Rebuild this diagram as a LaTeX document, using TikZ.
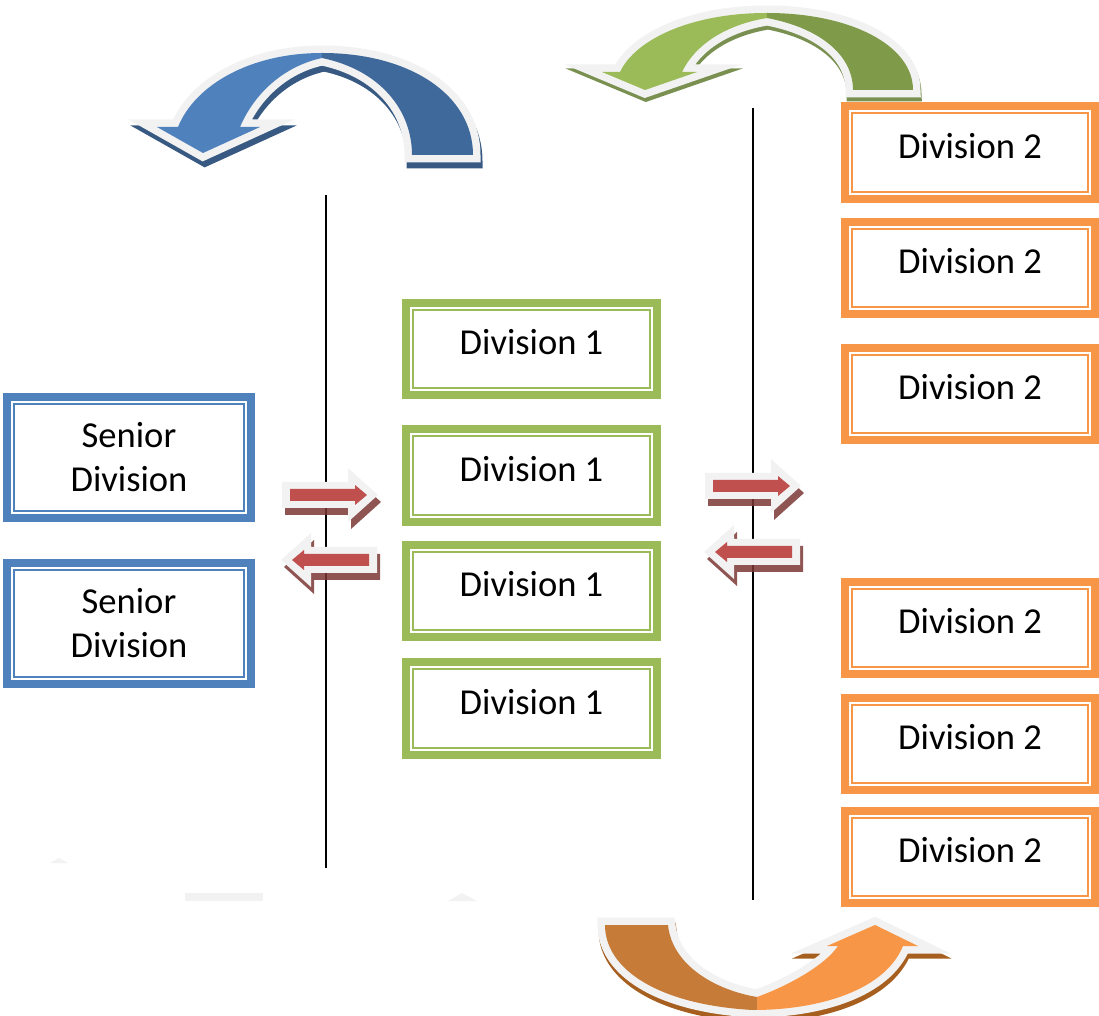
\documentclass[tikz,border=0pt]{standalone}
\usepackage{fontspec}
\setmainfont{Carlito}
\definecolor{divblue}{HTML}{4F81BD}
\definecolor{divgreen}{HTML}{9BBB59}
\definecolor{divorange}{HTML}{F79646}
\definecolor{blueA}{HTML}{4F81BD}
\definecolor{blueB}{HTML}{40699B}
\definecolor{blueshadow}{HTML}{385A82}
\definecolor{greenA}{HTML}{9BBB59}
\definecolor{greenB}{HTML}{7F9A48}
\definecolor{greenshadow}{HTML}{7A9050}
\definecolor{orangeA}{HTML}{C77B38}
\definecolor{orangeB}{HTML}{F79646}
\definecolor{orangeshadow}{HTML}{A65F1F}
\definecolor{rimgray}{HTML}{F2F2F2}
\definecolor{arrowred}{HTML}{C0504D}
\definecolor{redshadow}{HTML}{7A3735}
\tikzset{
	pics/redarrow/.style={code={
			\fill[redshadow, opacity=.85, shift={(3,7)}, xscale=#1] (0,-13) -- (66,-13) -- (66,-27) -- (96,0) -- (66,27) -- (66,13) -- (0,13) -- cycle;
			\fill[rimgray, xscale=#1] (0,-13) -- (66,-13) -- (66,-27) -- (96,0) -- (66,27) -- (66,13) -- (0,13) -- cycle;
			\fill[arrowred, xscale=#1] (8,-6) -- (73,-6) -- (73,-10) -- (85,0) -- (73,10) -- (73,6) -- (8,6) -- cycle;
	}}
}
% the three bent arrows
\newcommand\bluearc{(473,155) .. controls (473,95) and (410,53) .. (322,53) .. controls (250,53) and (195,85) .. (178,127) -- (157,127) -- (203,153) -- (260,127) -- (240,127) .. controls (255,92) and (285,66) .. (322,58) .. controls (380,70) and (412,110) .. (412,155) -- cycle}
\newcommand\greenarc{(913,90) .. controls (913,45) and (850,13) .. (767,13) .. controls (690,13) and (635,40) .. (620,72) -- (602,72) -- (645,90) -- (697,72) -- (682,72) .. controls (695,45) and (725,25) .. (767,18) .. controls (820,28) and (853,55) .. (853,90) -- cycle}
\newcommand\orangearc{(605,925) -- (668,925) .. controls (672,965) and (715,990) .. (757,997) .. controls (790,985) and (825,965) .. (838,946) -- (827,946) -- (875,925) -- (918,946) -- (903,946) .. controls (885,990) and (820,1010) .. (753,1010) .. controls (660,1005) and (605,970) .. (605,925) -- cycle}
\begin{document}
\begin{tikzpicture}[x=0.02cm, y=-0.02cm,
	font=\fontsize{20.8}{25}\selectfont,
	divbox/.style={draw=#1, line width=0.16cm, fill=white, outer sep=0pt, inner sep=0pt},
	seniorbox/.style={divbox=divblue, minimum width=4.88cm, minimum height=2.42cm, align=center},
	onebox/.style={divbox=divgreen, minimum width=5.02cm, minimum height=1.86cm, text height=0.46cm, text depth=0.23cm},
	twobox/.style={divbox=divorange, minimum width=5.0cm, minimum height=1.86cm, text height=0.46cm, text depth=0.23cm},
	rim/.style={draw=rimgray, fill=rimgray, line width=0.3cm}]
	\useasboundingbox (0,0) rectangle (1099,1016);
	\path
	(326,195) coordinate (L1)
	(326,868) coordinate (L2)
	(753,108) coordinate (R1)
	(753,900) coordinate (R2)
	;
	\draw[line width=0.04cm] (L1)--(L2);
	\draw[line width=0.04cm] (R1)--(R2);
	% faint leftovers near the bottom
	\fill[rimgray] (50,863) -- (59,858) -- (68,863) -- cycle;
	\fill[rimgray] (185,893) rectangle (263,901);
	\fill[rimgray] (448,901) -- (462,893) -- (477,901) -- cycle;
	% bent arrows
	\filldraw[blueshadow, line width=0.3cm, shift={(2,6)}] \bluearc;
	\path[rim] \bluearc;
	\begin{scope}
		\clip \bluearc;
		\fill[blueA] (100,0) rectangle (322,200);
		\fill[blueB] (322,0) rectangle (520,200);
	\end{scope}
	\filldraw[greenshadow, line width=0.3cm, shift={(1,4)}] \greenarc;
	\path[rim] \greenarc;
	\begin{scope}
		\clip \greenarc;
		\fill[greenA] (560,0) rectangle (767,120);
		\fill[greenB] (767,0) rectangle (960,120);
	\end{scope}
	\filldraw[orangeshadow, line width=0.3cm, shift={(1,5)}] \orangearc;
	\path[rim] \orangearc;
	\begin{scope}
		\clip \orangearc;
		\fill[orangeA] (560,900) rectangle (757,1016);
		\fill[orangeB] (757,900) rectangle (980,1016);
	\end{scope}
	% small swap arrows
	\pic at (282,495) {redarrow=1};
	\pic at (377,560) {redarrow=-1};
	\pic at (705,486) {redarrow=1};
	\pic at (800,552) {redarrow=-1};
	% boxes
	\node[seniorbox] (senior1) at (129,457.5) {Senior\\Division};
	\node[seniorbox] (senior2) at (129,623.5) {Senior\\Division};
	\node[onebox] (one1) at (531.5,349) {Division 1};
	\node[onebox] (one2) at (531.5,475.5) {Division 1};
	\node[onebox] (one3) at (531.5,591) {Division 1};
	\node[onebox] (one4) at (531.5,708.5) {Division 1};
	\node[twobox] (two1) at (970,152.5) {Division 2};
	\node[twobox] (two2) at (970,268) {Division 2};
	\node[twobox] (two3) at (970,394) {Division 2};
	\node[twobox] (two4) at (970,628) {Division 2};
	\node[twobox] (two5) at (970,744) {Division 2};
	\node[twobox] (two6) at (970,857) {Division 2};
	\foreach \n/\c in {senior1/divblue,senior2/divblue,one1/divgreen,one2/divgreen,one3/divgreen,one4/divgreen,two1/divorange,two2/divorange,two3/divorange,two4/divorange,two5/divorange,two6/divorange}
	\draw[\c, line width=0.04cm] ([shift={(7,7)}]\n.north west) rectangle ([shift={(-7,-7)}]\n.south east);
\end{tikzpicture}
\end{document}
